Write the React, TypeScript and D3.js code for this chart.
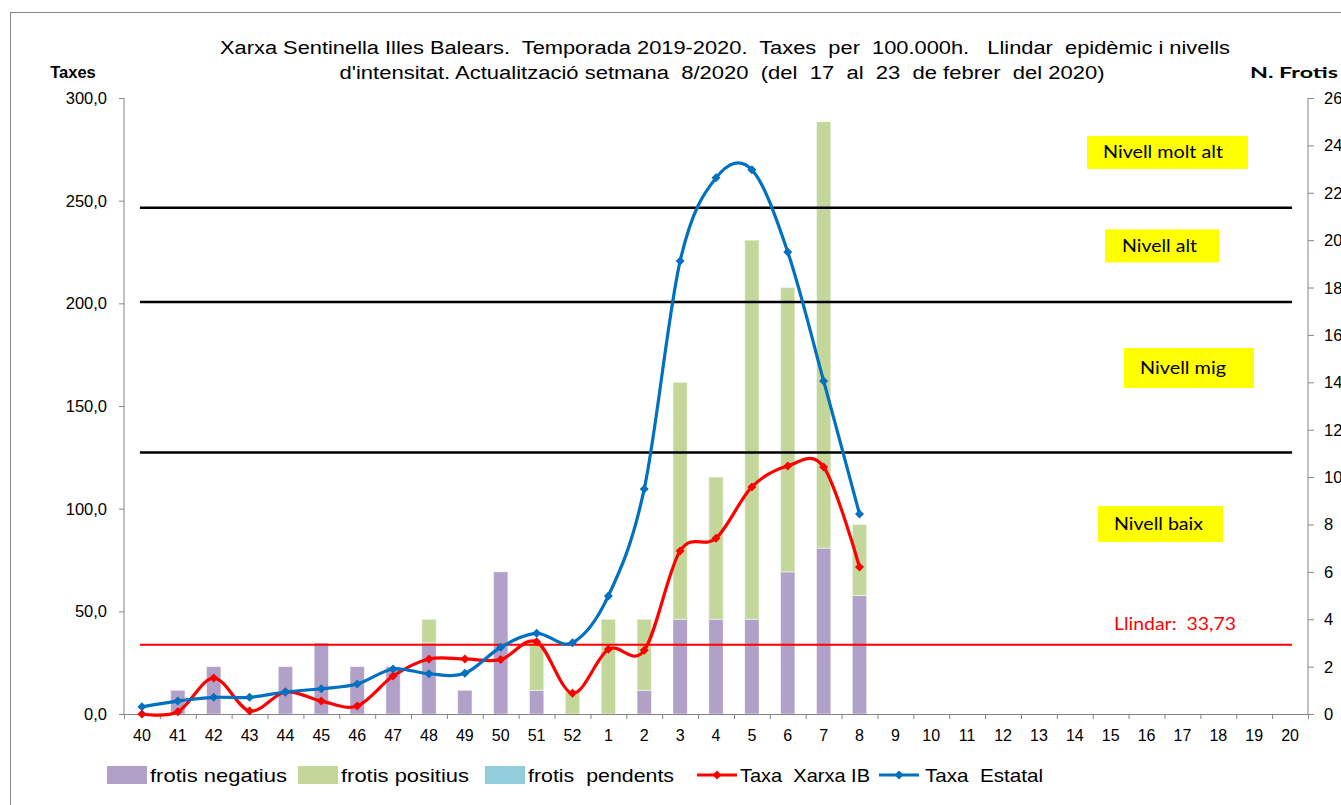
import React from 'react';
import * as d3 from 'd3';

const weeks = ['40','41','42','43','44','45','46','47','48','49','50','51','52','1','2','3','4','5','6','7','8','9','10','11','12','13','14','15','16','17','18','19','20'];
const frotisNegatius = [0,1,2,0,2,3,2,2,3,1,6,1,0,0,1,4,4,4,6,7,5];
const frotisPositius = [0,0,0,0,0,0,0,0,1,0,0,2,1,4,3,10,6,16,12,18,3];
const frotisPendents = [0,0,0,0,0,0,0,0,0,0,0,0,0,0,0,0,0,0,0,0,0];
const taxaXarxaIB = [0,1.1,17.5,1.5,10.7,6.3,3.9,18.5,26.8,26.8,26.5,35.2,10.1,31.5,31,79.4,85.6,110.6,120.8,120.3,71.6];
const taxaEstatal = [3.5,6.3,8.1,8.1,10.7,12.3,14.6,21.9,19.6,19.8,32.5,39.3,34.7,57.5,109.6,220.6,261.1,265,225,162.2,97.4];
const nivells = [246.5, 200.7, 127.4];
const llindar = 33.73;
const leftTicks = [0,50,100,150,200,250,300];
const rightTicks = [0,2,4,6,8,10,12,14,16,18,20,22,24,26];
const levelLabels = ['Nivell molt alt','Nivell alt','Nivell mig','Nivell baix'];
const titleLines = [
  "Xarxa Sentinella Illes Balears.  Temporada 2019-2020.  Taxes  per  100.000h.   Llindar  epidèmic i nivells",
  "d'intensitat. Actualització setmana  8/2020  (del  17  al  23  de febrer  del 2020)"
];
const legendLabels = ['frotis negatius','frotis positius','frotis  pendents','Taxa  Xarxa IB','Taxa  Estatal'];

const C = {
  neg: '#B1A0C7', pos: '#C4D79B', pend: '#92CDDC', red: '#FF0000', blue: '#0070C0', axis: '#868686'
};

const diamond = (r: number) => `M0,${-r}L${r},0L0,${r}L${-r},0Z`;
const pre = { whiteSpace: 'pre' as const };

export default function App() {
  const W = 1341, H = 805;
  const x0 = 124, x1 = 1308, yTop = 98, yBot = 714;
  const x = d3.scaleBand<string>().domain(weeks).range([x0, x1]).padding(0);
  const bw = x.bandwidth();
  const barW = bw * 0.4;
  const yL = d3.scaleLinear().domain([0, 300]).range([yBot, yTop]);
  const yR = d3.scaleLinear().domain([0, 26]).range([yBot, yTop]);
  const cx = (i: number) => (x(weeks[i]) as number) + bw / 2;

  const line = d3.line<number>().x((_, i) => cx(i)).y(d => yL(d)).curve(d3.curveCatmullRom.alpha(0));

  const stack = frotisNegatius.map((n, i) => ({ w: weeks[i], n, p: frotisPositius[i], e: frotisPendents[i] }));

  const lineX0 = cx(0) - 2, lineX1 = cx(weeks.length - 1) + 2;
  const font = "'Liberation Sans', Arial, sans-serif";
  const cal = "Lato, 'Open Sans', sans-serif";

  const boxes = [
    { label: levelLabels[0], x: 1087, w: 161, yc: 273.5, h: 33, tx: 1103, tw: 120 },
    { label: levelLabels[1], x: 1105, w: 114, yc: 228, h: 33, tx: 1122, tw: 75 },
    { label: levelLabels[2], x: 1124, w: 130, yc: 168.5, h: 40, tx: 1140, tw: 86 },
    { label: levelLabels[3], x: 1098, w: 125, yc: 92.5, h: 36, tx: 1114, tw: 89 },
  ];

  const legend = [
    { type: 'rect', color: C.neg, sx: 107, tx: 150, tw: 137 },
    { type: 'rect', color: C.pos, sx: 298, tx: 341, tw: 128 },
    { type: 'rect', color: C.pend, sx: 485, tx: 528, tw: 146 },
    { type: 'line', color: C.red, sx: 697, tx: 740, tw: 130 },
    { type: 'line', color: C.blue, sx: 879, tx: 925, tw: 118 },
  ];

  return (
    <svg width={W} height={H} style={{ position: 'absolute', left: 0, top: 0, background: '#fff' }}>
      <rect x={0} y={0} width={W} height={H} fill="#fff" />
      <rect x={10.5} y={12.5} width={W + 20} height={H + 20} fill="none" stroke={C.axis} strokeWidth={1} />

      {/* title */}
      <text x={725} y={54} textAnchor="middle" fontFamily={font} fontSize={18} textLength={1010} lengthAdjust="spacingAndGlyphs" fill="#000" style={pre}>{titleLines[0]}</text>
      <text x={722} y={79} textAnchor="middle" fontFamily={font} fontSize={18} textLength={765} lengthAdjust="spacingAndGlyphs" fill="#000" style={pre}>{titleLines[1]}</text>
      <text x={73} y={78} textAnchor="middle" fontFamily={font} fontSize={16.5} fontWeight="bold" fill="#000">Taxes</text>
      <text x={1294} y={78} textAnchor="middle" fontFamily={cal} fontSize={16} fontWeight="bold" textLength={88} lengthAdjust="spacingAndGlyphs" fill="#000">N. Frotis</text>

      {/* bars */}
      {stack.map((d, i) => {
        const bx = (x(d.w) as number) + (bw - barW) / 2;
        const segs = [
          { v0: 0, v1: d.n, c: C.neg },
          { v0: d.n, v1: d.n + d.p, c: C.pos },
          { v0: d.n + d.p, v1: d.n + d.p + d.e, c: C.pend },
        ];
        return (
          <g key={i}>
            {segs.filter(s => s.v1 > s.v0).map((s, j) => (
              <rect key={j} x={bx} y={yR(s.v1)} width={barW} height={yR(s.v0) - yR(s.v1)} fill={s.c} stroke="#ffffff" strokeOpacity={0.5} strokeWidth={1} />
            ))}
          </g>
        );
      })}

      {/* axes */}
      <line x1={x0} x2={x0} y1={yTop} y2={yBot} stroke={C.axis} />
      <line x1={x1} x2={x1} y1={yTop} y2={yBot} stroke={C.axis} />
      <line x1={x0} x2={x1} y1={yBot + 0.5} y2={yBot + 0.5} stroke={C.axis} />
      {leftTicks.map(t => (
        <g key={t}>
          <line x1={x0 - 5} x2={x0} y1={yL(t) + 0.5} y2={yL(t) + 0.5} stroke={C.axis} />
          <text x={107} y={yL(t) + 6} textAnchor="end" fontFamily={font} fontSize={16.5} fill="#000">{d3.format('.1f')(t).replace('.', ',')}</text>
        </g>
      ))}
      {rightTicks.map(t => (
        <g key={t}>
          <line x1={x1} x2={x1 + 6} y1={yR(t) + 0.5} y2={yR(t) + 0.5} stroke={C.axis} />
          <text x={1324} y={yR(t) + 6} textAnchor="start" fontFamily={font} fontSize={16.5} fill="#000">{t}</text>
        </g>
      ))}
      {weeks.map((w, i) => (
        <g key={w}>
          <line x1={(x(w) as number) + 0.5} x2={(x(w) as number) + 0.5} y1={yBot} y2={yBot + 5} stroke={C.axis} />
          <text x={cx(i)} y={741} textAnchor="middle" fontFamily={font} fontSize={16} fill="#000">{w}</text>
        </g>
      ))}
      <line x1={x1 + 0.5} x2={x1 + 0.5} y1={yBot} y2={yBot + 5} stroke={C.axis} />

      {/* threshold lines */}
      {nivells.map((v, i) => (
        <line key={i} x1={lineX0} x2={lineX1} y1={yL(v)} y2={yL(v)} stroke="#000" strokeWidth={2.5} />
      ))}
      <line x1={lineX0} x2={lineX1} y1={yL(llindar)} y2={yL(llindar)} stroke={C.red} strokeWidth={2} />
      <text x={1114} y={630} fontFamily={cal} fontSize={18} fill={C.red} textLength={122} lengthAdjust="spacingAndGlyphs" style={pre}>{`Llindar:  ${d3.format('.2f')(llindar).replace('.', ',')}`}</text>

      {/* curves */}
      <path d={line(taxaXarxaIB) || ''} fill="none" stroke={C.red} strokeWidth={3.2} strokeLinejoin="round" />
      {taxaXarxaIB.map((v, i) => (
        <path key={i} d={diamond(4.5)} transform={`translate(${cx(i)},${yL(v)})`} fill={C.red} />
      ))}
      <path d={line(taxaEstatal) || ''} fill="none" stroke={C.blue} strokeWidth={3.2} strokeLinejoin="round" />
      {taxaEstatal.map((v, i) => (
        <path key={i} d={diamond(4.5)} transform={`translate(${cx(i)},${yL(v)})`} fill={C.blue} />
      ))}

      {/* level boxes */}
      {boxes.map((b, i) => (
        <g key={i}>
          <rect x={b.x} y={yL(b.yc) - b.h / 2} width={b.w} height={b.h} fill="#FFFF00" />
          <text x={b.tx} y={yL(b.yc) + 6} fontFamily={cal} fontSize={18} fill="#000" textLength={b.tw} lengthAdjust="spacingAndGlyphs">{b.label}</text>
        </g>
      ))}

      {/* legend */}
      {legend.map((l, i) => (
        <g key={i}>
          {l.type === 'rect'
            ? <rect x={l.sx} y={766} width={40} height={18} fill={l.color} />
            : <g>
                <line x1={l.sx} x2={l.sx + 40} y1={775} y2={775} stroke={l.color} strokeWidth={3.2} />
                <path d={diamond(4.5)} transform={`translate(${l.sx + 20},775)`} fill={l.color} />
              </g>}
          <text x={l.tx} y={782} fontFamily={font} fontSize={19} fill="#000" textLength={l.tw} lengthAdjust="spacingAndGlyphs" style={pre}>{legendLabels[i]}</text>
        </g>
      ))}
    </svg>
  );
}
